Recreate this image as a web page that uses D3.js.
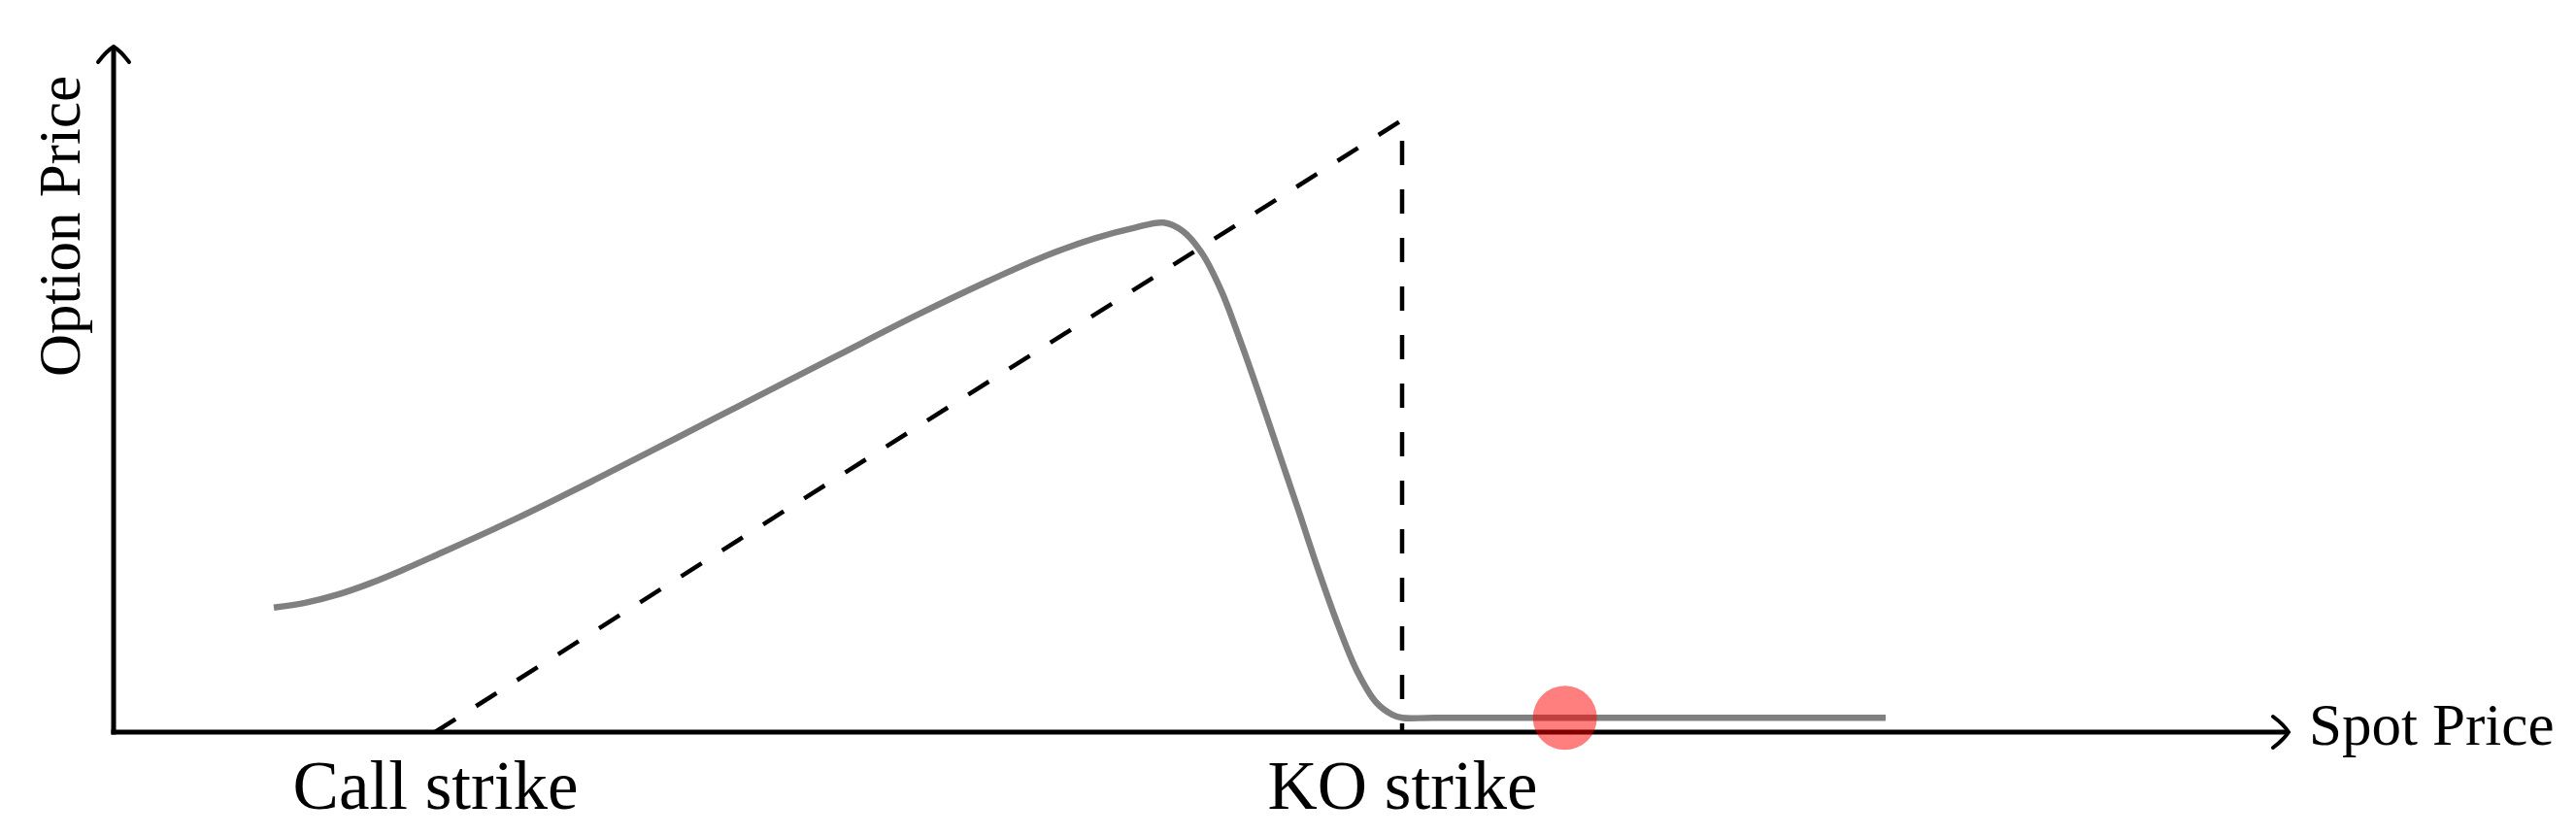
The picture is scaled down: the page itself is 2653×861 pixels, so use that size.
<!DOCTYPE html>
<html>
<head>
<meta charset="utf-8">
<script src="https://cdn.jsdelivr.net/npm/d3@7"></script>
<style>
  html, body { margin: 0; padding: 0; background: #fff; }
  svg { display: block; }
  text { font-family: "Liberation Serif", "Times New Roman", serif; fill: #000; }
</style>
</head>
<body>
<script>
let width = 2653;
let height = 861;

// strikes and tick labels
let strikes = [100, 130];
let strikeLabels = ['Call strike', 'KO strike'];

// intrinsic payoff (dashed): rises from call strike to KO strike, then drops
let payoffSpot = [100, 130, 130];
let payoffValue = [0, 30, 0];

// option price curve
let spot = [95.0, 96.0, 97.0, 98.0, 99.0, 100.0, 102.5, 105.0, 107.5, 110.0,
  112.5, 115.0, 117.5, 119.0, 120.5, 121.7, 122.6, 123.2, 123.8, 124.4,
  125.0, 125.6, 126.2, 126.8, 127.4, 128.0, 128.6, 129.2, 129.7, 130.0,
  131.0, 145.0];
let price = [6.1, 6.35, 6.75, 7.3, 7.95, 8.65, 10.45, 12.4, 14.42, 16.45,
  18.47, 20.48, 22.35, 23.38, 24.22, 24.72, 24.97, 24.55, 23.45, 21.6,
  19.1, 16.4, 13.6, 10.8, 7.95, 5.3, 3.0, 1.45, 0.85, 0.7,
  0.7, 0.7];

// current spot marker
let markerSpot = [135.05];
let markerPrice = [0.7];

let svg = d3.select('body').append('svg')
  .attr('width', width)
  .attr('height', height);

let x = d3.scaleLinear().domain([90.03, 157.5]).range([117, 2357]);
let y = d3.scaleLinear().domain([0, 33.6]).range([754, 48]);

// axes with open arrow tips
let axes = svg.append('g')
  .attr('stroke', '#000')
  .attr('stroke-width', 5)
  .attr('fill', 'none');

axes.append('line')
  .attr('x1', x(90.03) - 2.5).attr('y1', y(0))
  .attr('x2', x(157.5) - 2).attr('y2', y(0));
axes.append('line')
  .attr('x1', x(90.03)).attr('y1', y(0) + 2.5)
  .attr('x2', x(90.03)).attr('y2', y(33.6) + 2);

let tip = 'M -16,16 C -10,8 -4,2.5 0,0 C 4,2.5 10,8 16,16';
axes.append('path')
  .attr('d', tip)
  .attr('stroke-width', 4)
  .attr('stroke-linecap', 'round')
  .attr('transform', `translate(${x(90.03)},${y(33.6)})`);
axes.append('path')
  .attr('d', tip)
  .attr('stroke-width', 4)
  .attr('stroke-linecap', 'round')
  .attr('transform', `translate(${x(157.5)},${y(0)}) rotate(90)`);

// strike labels through a bottom axis
let xAxis = d3.axisBottom(x)
  .tickValues(strikes)
  .tickFormat((d, i) => strikeLabels[i])
  .tickSize(0)
  .tickPadding(29);

let gx = svg.append('g')
  .attr('transform', `translate(0,${y(0)})`)
  .call(xAxis);
gx.select('.domain').remove();
gx.selectAll('text')
  .style('font-family', '"Liberation Serif", "Times New Roman", serif')
  .attr('font-size', 71)
  .attr('fill', '#000');

// dashed payoff
let payoff = payoffSpot.map((s, i) => [s, payoffValue[i]]);
svg.append('path')
  .datum(payoff)
  .attr('fill', 'none')
  .attr('stroke', '#000')
  .attr('stroke-width', 4.5)
  .attr('stroke-dasharray', '25,25')
  .attr('d', d3.line().x((d) => x(d[0])).y((d) => y(d[1])));

// option price curve
let curve = spot.map((s, i) => [s, price[i]]);
svg.append('path')
  .datum(curve)
  .attr('fill', 'none')
  .attr('stroke', '#808080')
  .attr('stroke-width', 6.5)
  .attr('d', d3.line()
    .x((d) => x(d[0]))
    .y((d) => y(d[1]))
    .curve(d3.curveCatmullRom.alpha(0.5)));

// marker
svg.selectAll('circle.marker')
  .data(markerSpot)
  .enter().append('circle')
  .attr('class', 'marker')
  .attr('cx', (d) => x(d))
  .attr('cy', (d, i) => y(markerPrice[i]))
  .attr('r', 33)
  .attr('fill', 'rgb(255,0,0)')
  .attr('fill-opacity', 0.5);

// axis titles
svg.append('text')
  .attr('x', 2378)
  .attr('y', 767)
  .attr('font-size', 61)
  .text('Spot Price');

svg.append('text')
  .attr('transform', 'translate(82,388) rotate(-90)')
  .attr('font-size', 61)
  .text('Option Price');
</script>
</body>
</html>
